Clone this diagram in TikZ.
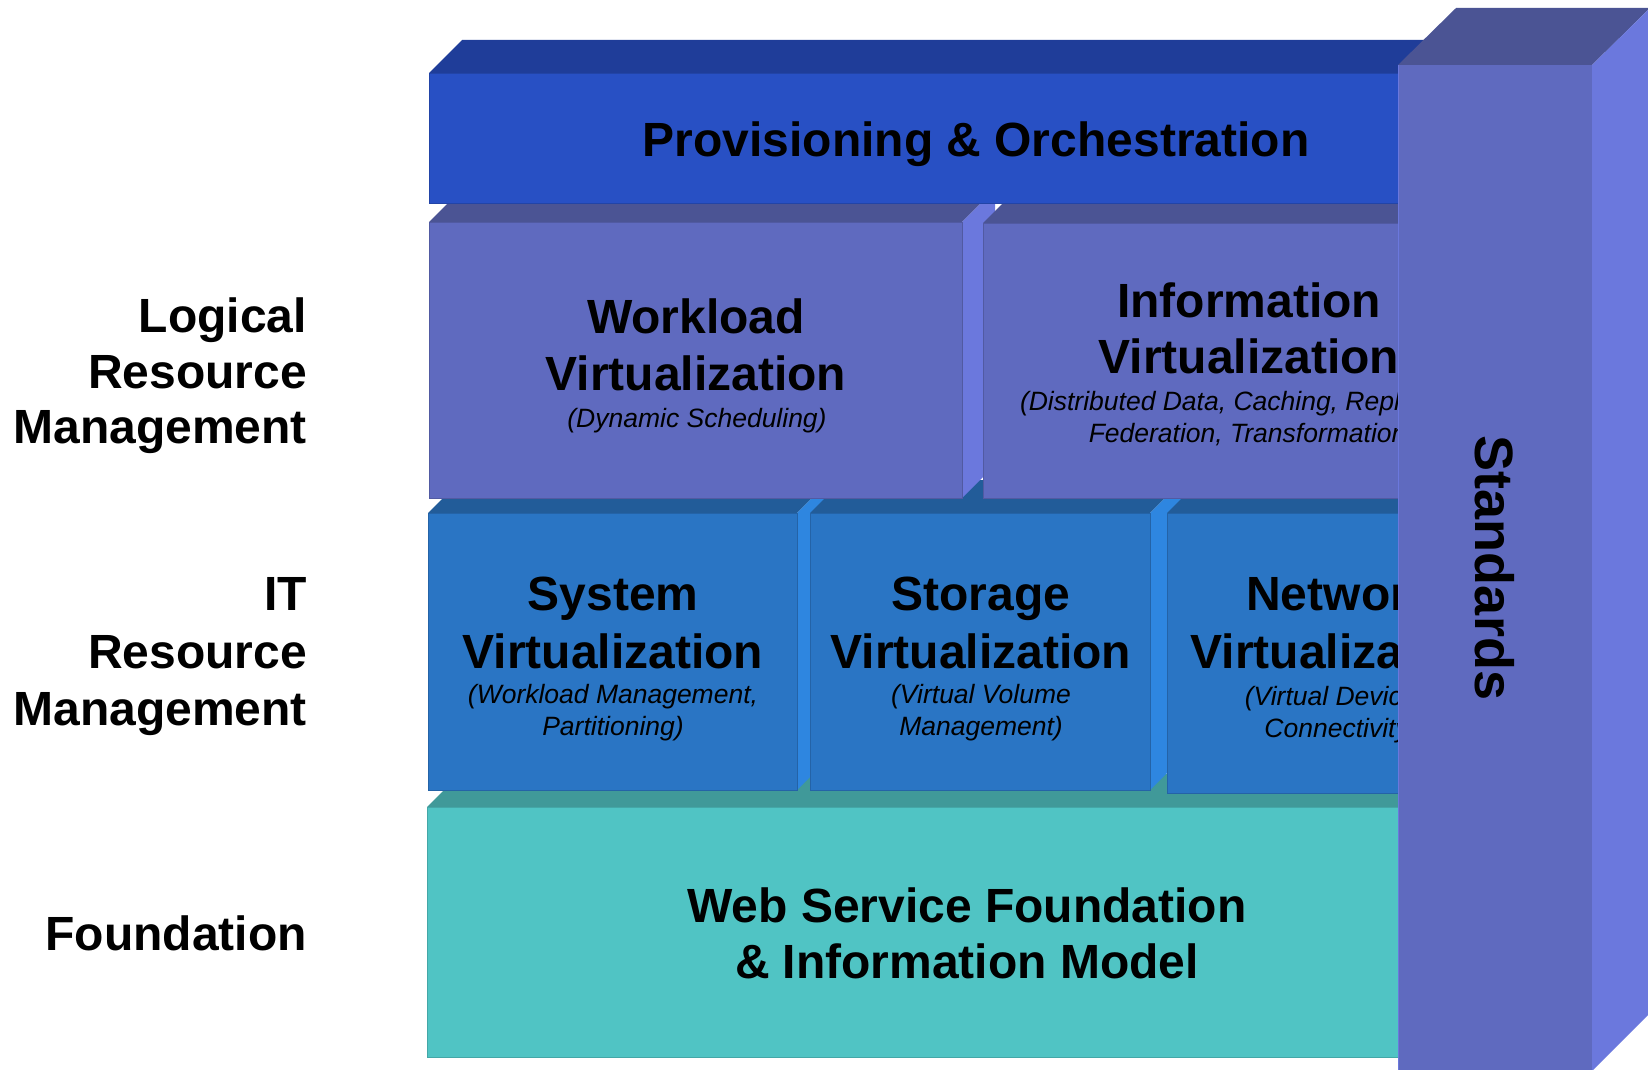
\documentclass[tikz,border=0pt]{standalone}
\usepackage{fontspec}
\setmainfont{Liberation Sans}
\definecolor{provF}{RGB}{40,80,196}
\definecolor{provT}{RGB}{31,61,153}
\definecolor{provR}{RGB}{46,96,224}
\definecolor{logF}{RGB}{95,106,191}
\definecolor{logT}{RGB}{75,84,148}
\definecolor{logR}{RGB}{107,120,221}
\definecolor{itF}{RGB}{42,117,196}
\definecolor{itT}{RGB}{34,92,153}
\definecolor{itR}{RGB}{46,134,224}
\definecolor{fdF}{RGB}{80,196,196}
\definecolor{fdT}{RGB}{64,153,153}
\definecolor{fdR}{RGB}{92,224,224}
% x1 y1 x2 y2 depth front top right
\newcommand\tdbox[8]{%
  \fill[#7] (#1,#2) -- (#1+#5,#2-#5) -- (#3+#5,#2-#5) -- (#3,#2) -- cycle;
  \fill[#8] (#3,#2) -- (#3+#5,#2-#5) -- (#3+#5,#4-#5) -- (#3,#4) -- cycle;
  \fill[#6] (#1,#2) rectangle (#3,#4);
  \draw[#6!85!black, line width=0.8pt] (#1,#2) rectangle (#3,#4);
}
\tikzset{
  title/.style={font=\bfseries\fontsize{48}{56}\selectfont, anchor=base, inner sep=0pt},
  sub/.style={font=\itshape\fontsize{26.5}{31.5}\selectfont, anchor=base, inner sep=0pt},
  side/.style={font=\bfseries\fontsize{48}{56}\selectfont, anchor=base east, inner sep=0pt},
}
\begin{document}
\begin{tikzpicture}[x=1pt,y=-1pt]
\useasboundingbox (0,0) rectangle (1648,1070);
\fill[white] (0,0) rectangle (1648,1070);

% Foundation layer
\tdbox{427}{807}{1520}{1057}{33}{fdF}{fdT}{fdR}
% IT layer
\tdbox{428}{513}{797}{790}{33}{itF}{itT}{itR}
\tdbox{810}{513}{1150}{790}{33}{itF}{itT}{itR}
\tdbox{1167}{513}{1520}{793}{33}{itF}{itT}{itR}
% Logical layer
\tdbox{429}{222}{962}{498}{33}{logF}{logT}{logR}
\tdbox{983}{223}{1520}{498}{33}{logF}{logT}{logR}
% Provisioning layer
\tdbox{429}{73}{1520}{203}{33}{provF}{provT}{provR}

% Texts in boxes
\node[title] (prov) at (976,157) {Provisioning \& Orchestration};

\node[title] (wl1) at (696,333) {Workload};
\node[title] (wl2) at (696,390) {Virtualization};
\node[sub]   (wl3) at (697,427) {(Dynamic Scheduling)};

\node[title] (iv1) at (1249,317) {Information};
\node[title] (iv2) at (1249,373) {Virtualization};
\node[sub]   (iv3) at (1252,410) {(Distributed Data, Caching, Replication,};
\node[sub]   (iv4) at (1252,442) {Federation, Transformation)};

\node[title] (sv1) at (613,610) {System};
\node[title] (sv2) at (613,668) {Virtualization};
\node[sub]   (sv3) at (613,703) {(Workload Management,};
\node[sub]   (sv4) at (613,735) {Partitioning)};

\node[title] (st1) at (981,610) {Storage};
\node[title] (st2) at (981,668) {Virtualization};
\node[sub]   (st3) at (981,703) {(Virtual Volume};
\node[sub]   (st4) at (981,735) {Management)};

\node[title] (nv1) at (1341,610) {Network};
\node[title] (nv2) at (1341,668) {Virtualization};
\node[sub]   (nv3) at (1341,705) {(Virtual Devices,};
\node[sub]   (nv4) at (1341,737) {Connectivity)};

\node[title] (wf1) at (967,922) {Web Service Foundation};
\node[title] (wf2) at (967,978) {\& Information Model};

% Standards column
\fill[logT] (1398,65) -- (1456,8) -- (1650,8) -- (1592,65) -- cycle;
\fill[logR] (1592,65) -- (1650,8) -- (1650,1013) -- (1592,1071) -- cycle;
\fill[logF] (1398,65) rectangle (1592,1071);
\draw[logR, line width=1pt] (1398.5,65) -- (1398.5,1071);
\node[font=\bfseries\fontsize{54}{60}\selectfont, rotate=-90, anchor=base, inner sep=0pt] (std) at (1475,568) {Standards};

% Side labels
\node[side] (l1) at (307,332) {Logical};
\node[side] (l2) at (307,388) {Resource};
\node[side] (l3) at (307,443) {Management};
\node[side] (i1) at (307,610) {IT};
\node[side] (i2) at (307,668) {Resource};
\node[side] (i3) at (307,725) {Management};
\node[side] (f1) at (307,950) {Foundation};
\end{tikzpicture}
\end{document}
